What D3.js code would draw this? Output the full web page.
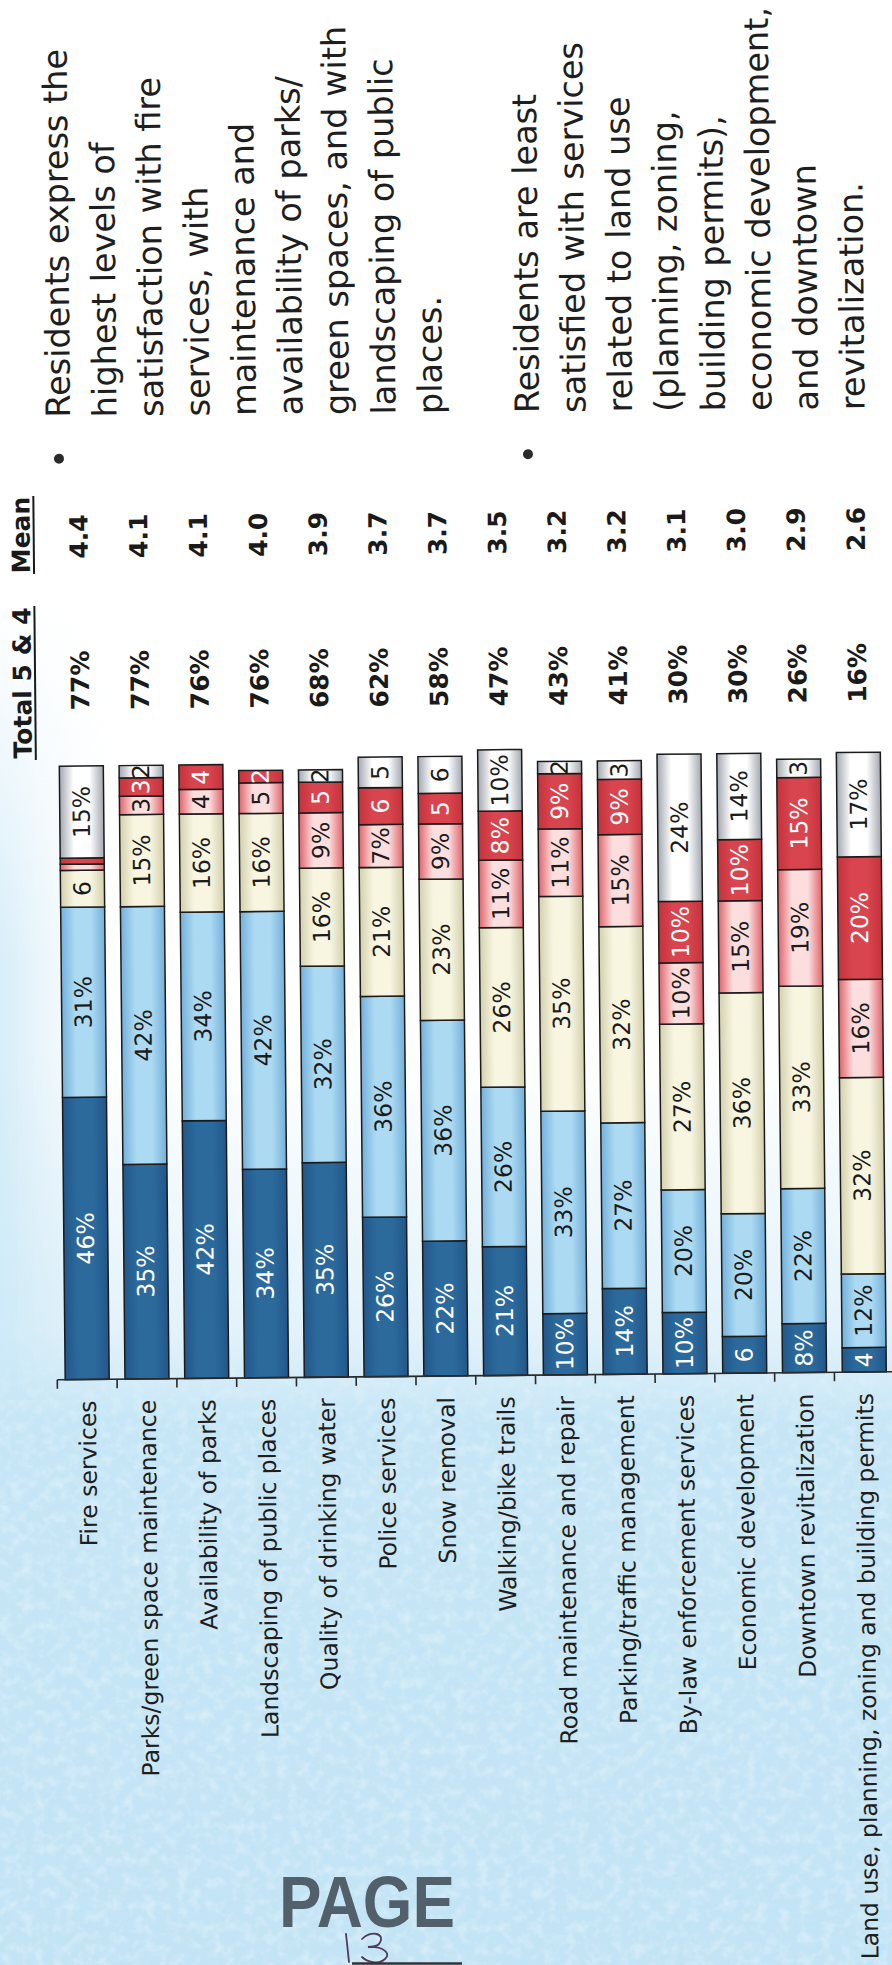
<!DOCTYPE html>
<html>
<head>
<meta charset="utf-8">
<script src="https://cdn.jsdelivr.net/npm/d3@7"></script>
<style>
  html, body { margin: 0; padding: 0; background: #ffffff; }
  svg { display: block; }
</style>
</head>
<body>
<svg id="page" width="892" height="1965"></svg>
<script>
// ---- Data -------------------------------------------------------------
const categories = [
  "Fire services",
  "Parks/green space maintenance",
  "Availability of parks",
  "Landscaping of public places",
  "Quality of drinking water",
  "Police services",
  "Snow removal",
  "Walking/bike trails",
  "Road maintenance and repair",
  "Parking/traffic management",
  "By-law enforcement services",
  "Economic development",
  "Downtown revitalization",
  "Land use, planning, zoning and building permits"
];
const verySatisfied    = [46, 35, 42, 34, 35, 26, 22, 21, 10, 14, 10,  6,  8,  4];
const satisfied        = [31, 42, 34, 42, 32, 36, 36, 26, 33, 27, 20, 20, 22, 12];
const neutral          = [ 6, 15, 16, 16, 16, 21, 23, 26, 35, 32, 27, 36, 33, 32];
const dissatisfied     = [ 1,  3,  4,  5,  9,  7,  9, 11, 11, 15, 10, 15, 19, 16];
const veryDissatisfied = [ 1,  3,  4,  2,  5,  6,  5,  8,  9,  9, 10, 10, 15, 20];
const dontKnow         = [15,  2,  0,  0,  2,  5,  6, 10,  2,  3, 24, 14,  3, 17];

const totalTop2 = ["77%","77%","76%","76%","68%","62%","58%","47%","43%","41%","30%","30%","26%","16%"];
const meanScores = ["4.4","4.1","4.1","4.0","3.9","3.7","3.7","3.5","3.2","3.2","3.1","3.0","2.9","2.6"];

const noteHigh = [
  "Residents express the",
  "highest levels of",
  "satisfaction with fire",
  "services, with",
  "maintenance and",
  "availability of parks/",
  "green spaces, and with",
  "landscaping of public",
  "places."
];
const noteLow = [
  "Residents are least",
  "satisfied with services",
  "related to land use",
  "(planning, zoning,",
  "building permits),",
  "economic development,",
  "and downtown",
  "revitalization."
];

// ---- Setup ------------------------------------------------------------
const W = 892, H = 1965;
const FONT = "'DejaVu Sans', Verdana, sans-serif";
const svg = d3.select("#page");
const defs = svg.append("defs");

const seriesKeys = ["verySatisfied","satisfied","neutral","dissatisfied","veryDissatisfied","dontKnow"];
const seriesArrays = [verySatisfied, satisfied, neutral, dissatisfied, veryDissatisfied, dontKnow];
const rows = categories.map((c, i) => {
  const r = { category: c };
  seriesKeys.forEach((k, j) => { r[k] = seriesArrays[j][i]; });
  return r;
});

// cylinder-like shading across each bar
const segmentStyle = {
  verySatisfied:    { stops: ["#22578a", "#2c6a9c", "#2c6a9c", "#22578a"], text: "#ffffff" },
  satisfied:        { stops: ["#74b0da", "#acdaf2", "#acdaf2", "#74b0da"], text: "#1c1c1c" },
  neutral:          { stops: ["#d3d0ae", "#f8f6e1", "#f8f6e1", "#d3d0ae"], text: "#1c1c1c" },
  dissatisfied:     { stops: ["#e0646b", "#fcdede", "#fcdede", "#e0646b"], text: "#1c1c1c" },
  veryDissatisfied: { stops: ["#c4323c", "#d9454e", "#d9454e", "#c4323c"], text: "#ffffff" },
  dontKnow:         { stops: ["#a3a8b1", "#ffffff", "#ffffff", "#a3a8b1"], text: "#1c1c1c" }
};
seriesKeys.forEach(k => {
  const g = defs.append("linearGradient").attr("id", "grad-" + k)
    .attr("x1", "0").attr("x2", "1").attr("y1", "0").attr("y2", "0");
  [0, 0.32, 0.68, 1].forEach((o, i) => {
    g.append("stop").attr("offset", o).attr("stop-color", segmentStyle[k].stops[i]);
  });
});

// paper background: blue stock in the lower part, white above
const bgV = defs.append("linearGradient").attr("id", "paperV")
  .attr("gradientUnits", "userSpaceOnUse").attr("x1", 0).attr("x2", 0).attr("y1", 0).attr("y2", H);
[[0, "#c6e6f6", 0], [1050 / H, "#c6e6f6", 0], [1330 / H, "#c6e6f6", 0.5], [1420 / H, "#c6e6f6", 1], [1, "#c3e4f5", 1]]
  .forEach(s => bgV.append("stop").attr("offset", s[0]).attr("stop-color", s[1]).attr("stop-opacity", s[2]));
const bgH = defs.append("linearGradient").attr("id", "paperH")
  .attr("gradientUnits", "userSpaceOnUse").attr("x1", 0).attr("x2", 110).attr("y1", 0).attr("y2", 0);
[[0, 0.7], [0.45, 0.3], [1, 0]].forEach(s =>
  bgH.append("stop").attr("offset", s[0]).attr("stop-color", "#c6e6f6").attr("stop-opacity", s[1]));
const bgHV = defs.append("linearGradient").attr("id", "paperHV")
  .attr("x1", 0).attr("x2", 0).attr("y1", 0).attr("y2", 1);
[[0, "#fff", 0], [0.45, "#fff", 1], [1, "#fff", 1]].forEach(s =>
  bgHV.append("stop").attr("offset", s[0]).attr("stop-color", s[1]).attr("stop-opacity", s[2]));
defs.append("mask").attr("id", "stripFade").append("rect")
  .attr("x", 0).attr("y", 600).attr("width", 110).attr("height", 800).attr("fill", "url(#paperHV)");

// fade the paper texture in softly below the bars
const grainFade = defs.append("linearGradient").attr("id", "grainFade")
  .attr("gradientUnits", "userSpaceOnUse").attr("x1", 0).attr("x2", 0).attr("y1", 1300).attr("y2", 1440);
[[0, 0], [1, 1]].forEach(s =>
  grainFade.append("stop").attr("offset", s[0]).attr("stop-color", "#fff").attr("stop-opacity", s[1]));
defs.append("mask").attr("id", "grainMask").append("rect")
  .attr("x", 0).attr("y", 1300).attr("width", W).attr("height", H - 1300).attr("fill", "url(#grainFade)");

const grain = defs.append("filter").attr("id", "grain").attr("x", 0).attr("y", 0).attr("width", 1).attr("height", 1);
grain.append("feTurbulence").attr("type", "fractalNoise").attr("baseFrequency", "0.09").attr("numOctaves", 3).attr("seed", 11);
grain.append("feColorMatrix").attr("type", "matrix")
  .attr("values", "0 0 0 0 1  0 0 0 0 1  0 0 0 0 1  0.9 0 0 0 -0.38");

svg.append("rect").attr("width", W).attr("height", H).attr("fill", "#ffffff");
svg.append("rect").attr("width", W).attr("height", H).attr("fill", "url(#paperV)");
svg.append("rect").attr("x", 0).attr("y", 600).attr("width", 110).attr("height", 800)
  .attr("fill", "url(#paperH)").attr("mask", "url(#stripFade)");
svg.append("g").attr("mask", "url(#grainMask)")
  .append("rect").attr("x", 0).attr("y", 1300).attr("width", W).attr("height", H - 1300)
  .attr("filter", "url(#grain)").attr("opacity", 0.8);

// ---- Chart (the scanned sheet sits slightly askew) --------------------
const sheet = svg.append("g").attr("transform", "rotate(-0.55, 446, 982)");

const x = d3.scaleBand()
  .domain(categories)
  .range([53.5, 890.4])
  .paddingInner(0.264)
  .paddingOuter(0.132);

const y = d3.scaleLinear().domain([0, 100]).range([1376, 762.5]);

const stacked = d3.stack().keys(seriesKeys)(rows);

const layers = sheet.selectAll("g.layer").data(stacked).join("g")
  .attr("class", "layer")
  .attr("fill", d => "url(#grad-" + d.key + ")");

layers.selectAll("rect").data(d => d.filter(s => s[1] - s[0] > 0)).join("rect")
  .attr("x", d => x(d.data.category))
  .attr("width", x.bandwidth())
  .attr("y", d => y(d[1]))
  .attr("height", d => y(d[0]) - y(d[1]))
  .attr("stroke", "#1b1b1b")
  .attr("stroke-width", 1.5);

// value labels inside segments
layers.each(function (layer) {
  const key = layer.key;
  d3.select(this).selectAll("text").data(layer.filter(s => s[1] - s[0] >= 2)).join("text")
    .attr("transform", d => `translate(${x(d.data.category) + x.bandwidth() / 2},${(y(d[0]) + y(d[1])) / 2}) rotate(-90)`)
    .attr("text-anchor", "middle")
    .attr("dominant-baseline", "central")
    .attr("font-family", FONT)
    .attr("font-size", 23.5)
    .attr("fill", segmentStyle[key].text)
    .text(d => {
      const v = d[1] - d[0];
      return v >= 7 ? v + "%" : String(v);
    });
});

// category axis along the bar bases
const axisY = 1376;
const xAxis = d3.axisBottom(x).tickSize(0).tickPadding(0);
const axisG = sheet.append("g").attr("transform", `translate(0,${axisY})`).call(xAxis);
axisG.select(".domain").remove();
axisG.selectAll(".tick text")
  .attr("transform", "rotate(-90)")
  .attr("x", -21)
  .attr("y", 0)
  .attr("dy", "0.36em")
  .style("text-anchor", "end")
  .attr("font-family", FONT)
  .attr("font-size", 23.5)
  .attr("fill", "#1e1e1e");

const r0 = x.range()[0], step = x.step();
sheet.append("line")
  .attr("x1", r0).attr("x2", x.range()[1])
  .attr("y1", axisY).attr("y2", axisY)
  .attr("stroke", "#2a2a2a").attr("stroke-width", 1.6);
sheet.selectAll("line.bound").data(d3.range(categories.length + 1)).join("line")
  .attr("class", "bound")
  .attr("x1", i => r0 + i * step).attr("x2", i => r0 + i * step)
  .attr("y1", axisY).attr("y2", axisY + 9)
  .attr("stroke", "#2a2a2a").attr("stroke-width", 1.6);

// summary columns
const center = c => x(c) + x.bandwidth() / 2;
function columnHeader(label, cy, underlineLen) {
  sheet.append("text")
    .attr("transform", `translate(34,${cy}) rotate(-90)`)
    .attr("text-anchor", "middle")
    .attr("font-family", FONT).attr("font-weight", "bold").attr("font-size", 25)
    .attr("fill", "#1a1a1a")
    .text(label);
  sheet.append("line")
    .attr("x1", 38).attr("x2", 38)
    .attr("y1", cy - underlineLen / 2).attr("y2", cy + underlineLen / 2)
    .attr("stroke", "#1a1a1a").attr("stroke-width", 2);
}
columnHeader("Total 5 & 4", 679, 154);
columnHeader("Mean", 531, 78);

sheet.selectAll("text.total").data(categories).join("text")
  .attr("class", "total")
  .attr("transform", (c) => `translate(${center(c)},677) rotate(-90)`)
  .attr("text-anchor", "middle").attr("dominant-baseline", "central")
  .attr("font-family", FONT).attr("font-weight", "bold").attr("font-size", 25)
  .attr("fill", "#1a1a1a")
  .text((c, i) => totalTop2[i]);

sheet.selectAll("text.mean").data(categories).join("text")
  .attr("class", "mean")
  .attr("transform", (c) => `translate(${center(c)},533) rotate(-90)`)
  .attr("text-anchor", "middle").attr("dominant-baseline", "central")
  .attr("font-family", FONT).attr("font-weight", "bold").attr("font-size", 25)
  .attr("fill", "#1a1a1a")
  .text((c, i) => meanScores[i]);

// commentary bullets
const lineGap = 46.5, lineStartY = 414;
function note(lines, x0) {
  sheet.append("circle").attr("cx", x0).attr("cy", 455).attr("r", 5).attr("fill", "#2a2a2a");
  sheet.selectAll(null).data(lines).join("text")
    .attr("transform", (t, i) => `translate(${x0 + i * lineGap},${lineStartY}) rotate(-90)`)
    .attr("text-anchor", "start").attr("dominant-baseline", "central")
    .attr("font-family", FONT).attr("font-size", 33.5)
    .attr("fill", "#1e1e1e")
    .text(t => t);
}
note(noteHigh, 64);
note(noteLow, 533);

// ---- Page stamp -------------------------------------------------------
svg.append("text")
  .attr("x", 279).attr("y", 1927)
  .attr("textLength", 176).attr("lengthAdjust", "spacingAndGlyphs")
  .attr("font-family", "'Liberation Sans', Arial, sans-serif")
  .attr("font-weight", "bold").attr("font-size", 72)
  .attr("fill", "#45525d").attr("opacity", 0.9)
  .text("PAGE");
svg.append("path")
  .attr("d", "M346,1934 C347,1944 348,1953 349,1962")
  .attr("fill", "none").attr("stroke", "#4d3a5c").attr("stroke-width", 1.8).attr("stroke-linecap", "round");
svg.append("path")
  .attr("d", "M362,1939 C370,1930 387,1933 379,1944 C376,1947 371,1947 368,1947 C382,1946 392,1953 385,1959 C379,1965 367,1962 362,1957")
  .attr("fill", "none").attr("stroke", "#4d3a5c").attr("stroke-width", 1.8).attr("stroke-linecap", "round");
svg.append("line")
  .attr("x1", 352).attr("x2", 462).attr("y1", 1963.5).attr("y2", 1963.5)
  .attr("stroke", "#333").attr("stroke-width", 2.5);
</script>
</body>
</html>
